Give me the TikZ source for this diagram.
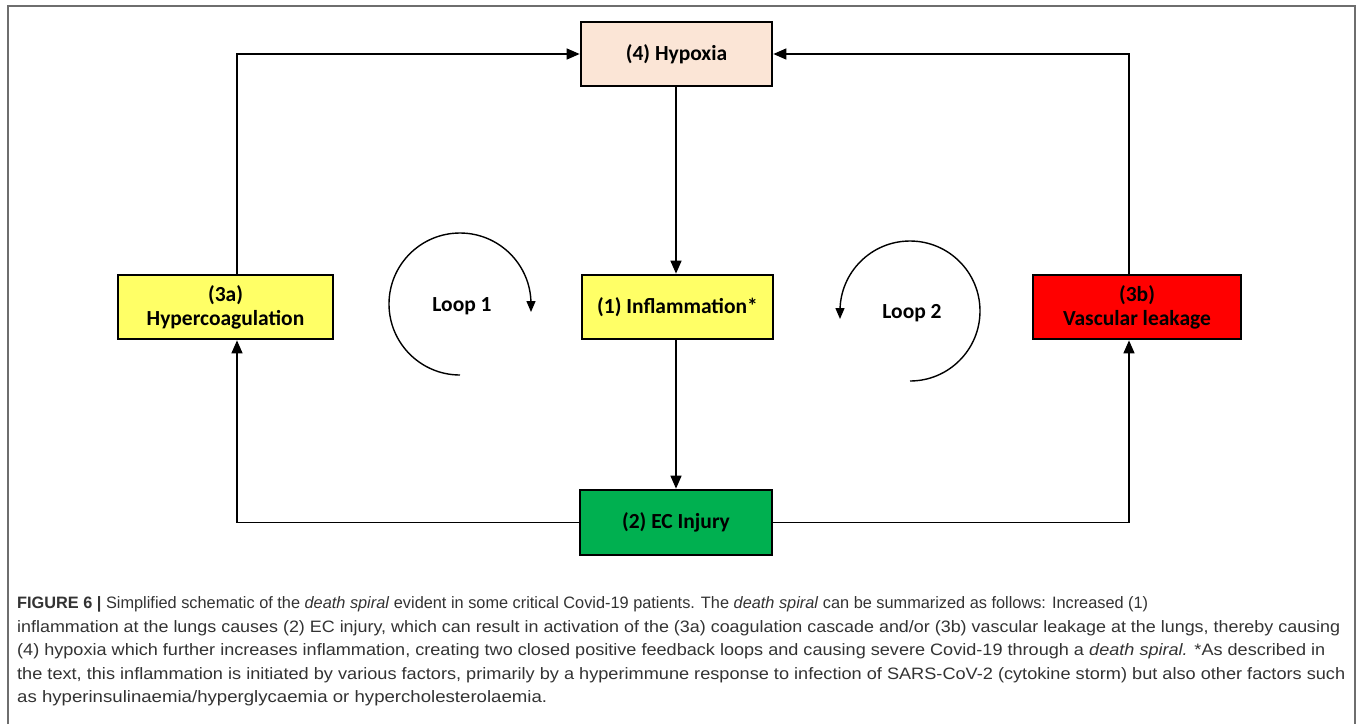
\documentclass[tikz,border=0pt]{standalone}
\usepackage{fontspec}
\usepackage{graphicx}
\setmainfont{Liberation Sans}
\newfontfamily\boxfont{Carlito}
\usetikzlibrary{arrows.meta}
\definecolor{peach}{HTML}{FBE5D6}
\definecolor{boxyellow}{HTML}{FFFF66}
\definecolor{boxred}{HTML}{FF0000}
\definecolor{boxgreen}{HTML}{00B050}
\definecolor{captext}{HTML}{333333}
\definecolor{framegray}{HTML}{6E6E6E}
\newcommand\capfit[2]{\resizebox{#1}{\height}{#2}}
\tikzset{
  stagebox/.style={draw=black, line width=2.7pt, minimum height=64pt, inner sep=0pt,
    align=center, font=\boxfont\bfseries\fontsize{21.5}{24}\selectfont},
  link/.style={line width=1.4pt, draw=black},
  arr/.style={link, -{Triangle[length=13pt,width=11pt]}},
  looparr/.style={link, -{Triangle[length=11pt,width=9pt]}},
  looplabel/.style={font=\boxfont\bfseries\fontsize{21.5}{24}\selectfont, inner sep=0pt},
  capline/.style={anchor=base west, inner sep=0pt, text=captext, font=\fontsize{16.5}{19}\selectfont}
}
\begin{document}
\begin{tikzpicture}[x=1pt,y=-1pt]
\useasboundingbox (0,0) rectangle (1360,724);
\fill[white] (0,0) rectangle (1360,724);
% frame (no bottom edge)
\draw[framegray, line width=1.6pt] (8,724) -- (8,6) -- (1355,6) -- (1355,724);

\node[stagebox, fill=peach, minimum width=191pt] (hyp) at (676.5,54) {(4) Hypoxia};
\node[stagebox, fill=boxyellow, minimum width=191pt] (inf) at (677.5,307) {(1) Inflammation*};
\node[stagebox, fill=boxyellow, minimum width=215pt] (hc) at (225.5,307) {(3a)\\Hypercoagulation};
\node[stagebox, fill=boxred, minimum width=208pt] (vl) at (1137,307) {(3b)\\Vascular leakage};
\node[stagebox, fill=boxgreen, minimum width=192pt, minimum height=65pt] (ec) at (676,522.5) {(2) EC Injury};

% connectors
\draw[arr] (hyp.south -| 676,0) -- (inf.north -| 676,0);
\draw[arr] (inf.south -| 676,0) -- (ec.north -| 676,0);
\draw[arr] (hc.north -| 237,0) -- (237,54) -- (hyp.west);
\draw[arr] (vl.north -| 1129,0) -- (1129,54) -- (hyp.east);
\draw[arr] (ec.west) -- (237,522.5) -- (hc.south -| 237,0);
\draw[arr] (ec.east) -- (1129,522.5) -- (vl.south -| 1129,0);

% loops
\coordinate (l1s) at (460,375);
\draw[looparr] (l1s) arc[start angle=270, end angle=0, radius=71pt] -- ++(0,8);
\node[looplabel] (loop1) at (462,306) {Loop 1};
\coordinate (l2s) at (910,381);
\draw[looparr] (l2s) arc[start angle=-90, end angle=180, radius=70pt] -- ++(0,8);
\node[looplabel] (loop2) at (912,313) {Loop 2};

% caption
\node[capline] (c1) at (17,608) {\capfit{1131pt}{\textbf{FIGURE 6 |} Simplified schematic of the \textit{death spiral} evident in some critical Covid-19 patients. The \textit{death spiral} can be summarized as follows: Increased (1)}};
\node[capline] (c2) at (17,632) {\capfit{1323pt}{inflammation at the lungs causes (2) EC injury, which can result in activation of the (3a) coagulation cascade and/or (3b) vascular leakage at the lungs, thereby causing}};
\node[capline] (c3) at (17,655) {\capfit{1308pt}{(4) hypoxia which further increases inflammation, creating two closed positive feedback loops and causing severe Covid-19 through a \textit{death spiral.} *As described in}};
\node[capline] (c4) at (17,679) {\capfit{1328pt}{the text, this inflammation is initiated by various factors, primarily by a hyperimmune response to infection of SARS-CoV-2 (cytokine storm) but also other factors such}};
\node[capline] (c5) at (17,702) {\capfit{530pt}{as hyperinsulinaemia/hyperglycaemia or hypercholesterolaemia.}};
\end{tikzpicture}
\end{document}
